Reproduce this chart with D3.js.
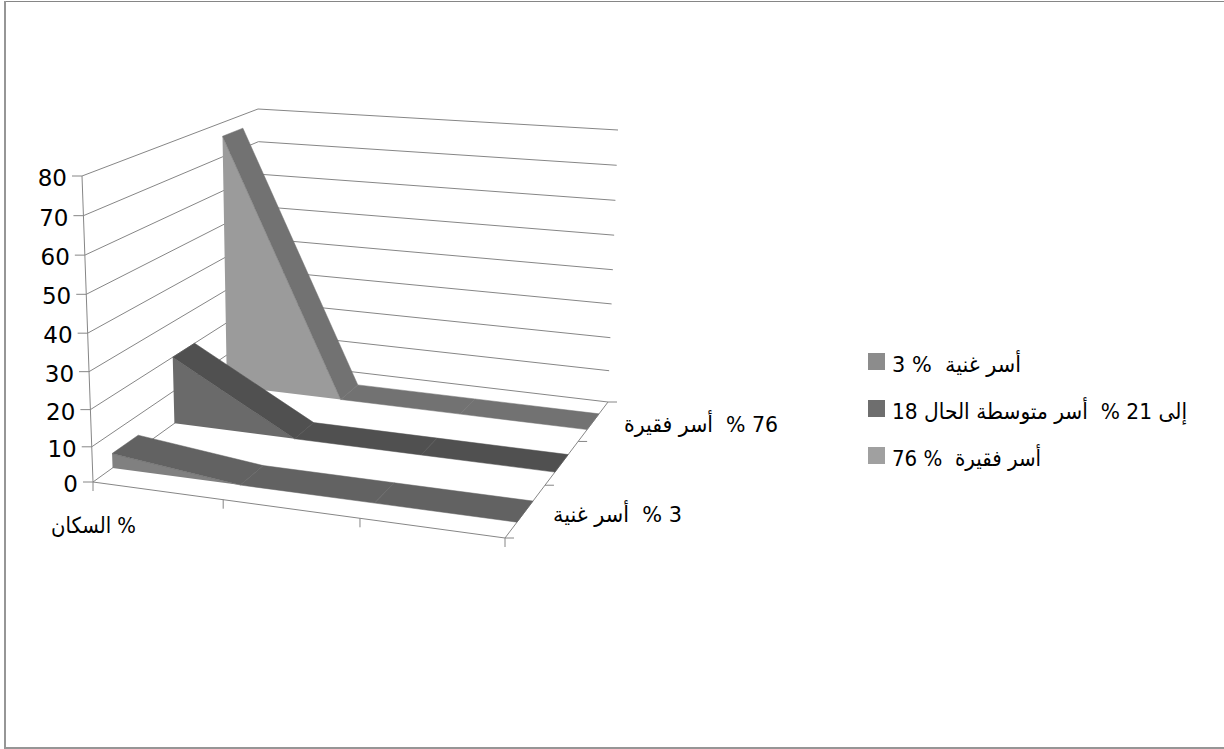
<!DOCTYPE html>
<html>
<head>
<meta charset="utf-8">
<script src="https://cdn.jsdelivr.net/npm/d3@7"></script>
<style>
  body { margin: 0; background: #fff; }
  text { font-family: "DejaVu Sans", sans-serif; white-space: pre; fill: #000; }
</style>
</head>
<body>
<div id="wrapper"></div>
<script>
// data
const categories = ["% السكان", "", "", ""]
const seriesNames = ["أسر غنية  % 3", "إلى 21 %  أسر متوسطة الحال 18", "أسر فقيرة  % 76"]
const depthLabels = ["3 %  أسر غنية", "", "76 %  أسر فقيرة"]
const richValues = [4.3, 0, 0, 0]
const middleValues = [20, 0, 0, 0]
const poorValues = [76, 0, 0, 0]
const valueTicks = [0, 10, 20, 30, 40, 50, 60, 70, 80]

const frontColors = ["#808080", "#6a6a6a", "#9b9b9b"]
const topColors = ["#626262", "#505050", "#727272"]
const legendColors = ["#8c8c8c", "#6e6e6e", "#a0a0a0"]
const legendWidths = [129, 295, 149]
const lineColor = "#868686"

const width = 1224
const height = 749

const svg = d3.select("#wrapper")
    .append("svg")
    .attr("width", width)
    .attr("height", height)
    .style("display", "block")

// outer frame, its right side runs off the page
svg.append("path")
    .attr("d", d3.line()([[width, 1.5], [4, 1.5]]))
    .attr("fill", "none")
    .attr("stroke", lineColor)
svg.append("path")
    .attr("d", d3.line()([[5, 1], [5, 748], [width, 748]]))
    .attr("fill", "none")
    .attr("stroke", "#969696")
    .attr("stroke-width", 2)

// corners of the 3d box on screen [front/back][left/right][floor/top]
const box = {
  fl0: [93, 482], fl1: [82, 176],
  fr0: [505, 538], fr1: [517, 202],
  bl0: [261, 361], bl1: [258, 109],
  br0: [608, 402], br1: [618, 130],
}

// perspective makes the steps uneven, so these are not plain linear
const xScale = d3.scaleLinear().domain([0, 1, 2, 3]).range([0, 0.316, 0.648, 1])
const zScale = d3.scaleLinear().domain([0, 1, 2, 3]).range([0, 0.388, 0.71, 1])
const yScale = d3.scalePow().exponent(1.04).domain([0, 80]).range([0, 1])

const mix = (a, b, t) => [a[0] + (b[0] - a[0]) * t, a[1] + (b[1] - a[1]) * t]

function project(cat, value, depth) {
  const x = xScale(cat), y = yScale(value), z = zScale(depth)
  const floor = mix(mix(box.fl0, box.fr0, x), mix(box.bl0, box.br0, x), z)
  const top = mix(mix(box.fl1, box.fr1, x), mix(box.bl1, box.br1, x), z)
  return mix(floor, top, y)
}

const line = d3.line()
const drawLine = (pts, g = svg) => g.append("path")
    .attr("d", line(pts))
    .attr("fill", "none")
    .attr("stroke", lineColor)
    .attr("stroke-width", 1)

// walls
valueTicks.forEach(v => {
  drawLine([project(0, v, 0), project(0, v, 3), project(3, v, 3)])
  const p = project(0, v, 0)
  drawLine([[p[0] - 10, p[1]], p])
})
drawLine([project(0, 0, 0), project(0, 80, 0)])

// floor edges and ticks
drawLine([project(0, 0, 0), project(3, 0, 0), project(3, 0, 3)])
categories.forEach((c, i) => {
  const p = project(i, 0, 0)
  drawLine([p, [p[0], p[1] + 9]])
})
d3.range(4).forEach(i => {
  const p = project(3, 0, i)
  drawLine([p, [p[0] + 9, p[1]]])
})

// areas, back series first
const allValues = [richValues, middleValues, poorValues]
const bandStart = 0.3
const bandEnd = 0.7

d3.range(2, -1, -1).forEach(s => {
  const values = allValues[s]
  const g = svg.append("g")
  const zf = s + bandStart
  const zb = s + bandEnd

  const frontPts = values.map((v, i) => project(i, v, zf))
  const floorPts = values.map((v, i) => project(i, 0, zf)).reverse()
  g.append("path")
      .attr("d", line(frontPts.concat(floorPts)) + "Z")
      .attr("fill", frontColors[s])

  d3.pairs(values.map((v, i) => i)).forEach(([a, b]) => {
    g.append("path")
        .attr("d", line([
          project(a, values[a], zf),
          project(a, values[a], zb),
          project(b, values[b], zb),
          project(b, values[b], zf),
        ]) + "Z")
        .attr("fill", topColors[s])
        .attr("stroke", topColors[s])
        .attr("stroke-width", 0.5)
  })
})

// tick labels
valueTicks.forEach(v => {
  const p = project(0, v, 0)
  svg.append("text")
      .attr("x", p[0] - 15)
      .attr("y", p[1] + 10)
      .attr("text-anchor", "end")
      .attr("font-size", 23)
      .text(v)
})

const rtlLabel = (x, y, str, len) => svg.append("text")
    .attr("x", x)
    .attr("y", y)
    .attr("font-size", 22)
    .attr("textLength", len)
    .attr("lengthAdjust", "spacingAndGlyphs")
    .style("direction", "rtl")
    .text(str)

rtlLabel(136, 533, categories[0], 85)
rtlLabel(682, 522, depthLabels[0], 129)
rtlLabel(778, 432, depthLabels[2], 154)

// legend
seriesNames.forEach((name, i) => {
  svg.append("rect")
      .attr("x", 868)
      .attr("y", 353 + i * 47)
      .attr("width", 17)
      .attr("height", 17)
      .attr("fill", legendColors[i])
  rtlLabel(892 + legendWidths[i], 372 + i * 47, name, legendWidths[i])
})
</script>
</body>
</html>
